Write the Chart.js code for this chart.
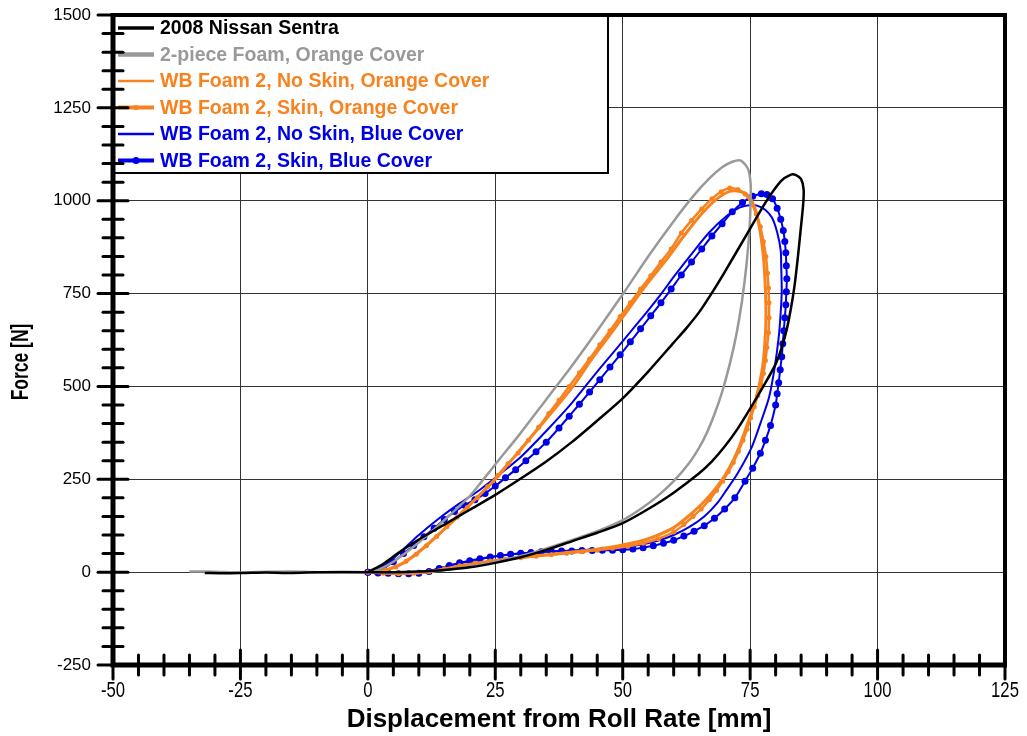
<!DOCTYPE html>
<html>
<head>
<meta charset="utf-8">
<script src="https://cdn.jsdelivr.net/npm/chart.js@4.4.1/dist/chart.umd.min.js"></script>
<style>
  html, body { margin: 0; padding: 0; background: #fff; }
  canvas { display: block; }
</style>
</head>
<body>
<canvas id="chart" width="1027" height="736"></canvas>
<script>
// Force / deplacement des essais (boucles charge-decharge)
const sentraX = [-32, -28, -24, -20, -16, -12, -8, -4, 0, 5, 10, 15, 20, 25, 30, 35, 40, 45, 50, 55, 60, 65, 67.5, 70, 72.5, 75, 77.5, 80, 81.2, 82.2, 83, 83.7, 84.3, 84.9, 85.4, 85.5, 85, 84, 83,
  81, 78, 74.8, 70, 67.5, 65, 62.5, 60, 55, 50, 45, 40, 35, 30, 25, 20, 15, 10, 6, 3, 0];
const sentraY = [-2, -3, -2, -1, -2, -1, 0, 0, 0, 0, 2, 6, 13, 25, 40, 60, 83, 106, 132, 170, 214, 266, 298, 338, 385, 440, 498, 560, 605, 655, 710, 770, 840, 920, 990, 1030, 1058, 1069, 1070,
  1052, 995, 920, 808, 752, 700, 657, 618, 540, 468, 408, 350, 298, 252, 208, 168, 128, 88, 52, 22, 0];

const foamX = [-35, -30, -25, -20, -15, -10, -5, 0, 5, 10, 14, 19, 24, 29, 33.7, 40, 45, 50, 53.5, 56.6, 60, 63, 65, 66.5, 68, 69.5, 71, 72.3, 73.4, 74.3, 74.9, 75.1, 75.1, 74.6, 73.2,
  71.5, 69.5, 67, 64, 60, 55, 50, 45, 40, 35, 30, 25, 22.5, 20, 15, 10, 5, 2, 0];
const foamY = [2, 1, -1, 1, 2, 0, 1, 0, 0, 1, 4, 13, 25, 40, 58, 86, 110, 140, 170, 202, 245, 293, 335, 375, 425, 485, 560, 640, 730, 830, 930, 1000, 1045, 1085, 1108,
  1105, 1090, 1060, 1015, 945, 850, 748, 650, 555, 465, 375, 290, 247, 205, 140, 80, 28, 6, 0];

const orangeNoSkinX = [0, 5, 10, 15, 20, 25, 30, 35, 40, 45, 50, 55, 60, 63, 66, 68.5, 70.5, 72.5, 74.5, 76.2, 77.3, 77.8, 78.1, 78, 77.6, 76.8, 75.8, 74.5, 73,
  71, 68.5, 65.5, 62, 58.5, 55, 51.5, 48, 44, 40.5, 37, 33, 29, 25, 21, 18, 14, 10, 7, 4, 0];
const orangeNoSkinY = [0, -3, -2, 8, 20, 30, 40, 47, 54, 62, 73, 90, 120, 152, 190, 230, 270, 325, 400, 470, 540, 600, 680, 760, 850, 930, 985, 1015, 1025,
  1025, 1005, 965, 905, 840, 780, 715, 648, 575, 505, 445, 380, 315, 250, 195, 155, 103, 55, 25, 8, 0];

const orangeSkinX = [0, 3, 6, 9, 12, 15, 18, 21, 24, 27, 30, 33, 36, 39, 42, 45, 48, 51, 54, 57, 60, 62,
  63.8, 65.4, 67, 68.4, 69.6, 70.7, 71.7, 72.7, 73.6, 74.4, 75.1, 75.8, 76.5, 77.1, 77.6, 78, 78.3, 78.6, 78.7, 78.7, 78.6, 78.4, 78.1, 77.6, 77, 76.2, 75.2, 74, 72.6,
  71, 69.3, 67.5, 65.5, 63.5, 61.5, 59.5, 57.5, 55.5, 53.5, 51.5, 49.5, 47.5, 45.5, 43.5, 41.5, 39.5, 37.5, 35.5, 33.5, 31.5, 29.5, 27.5, 25.5, 23.5, 21.5, 19.5, 17.5, 15.5, 13.5, 11.5, 9.5, 7.5, 5.5, 3.5, 1.5, 0];
const orangeSkinY = [0, -3, -4, -3, 1, 9, 17, 24, 30, 35, 39, 43, 47, 51, 55, 59, 64, 70, 78, 90, 108, 128,
  150, 170, 195, 220, 245, 270, 295, 325, 355, 385, 415, 445, 475, 505, 535, 570, 605, 645, 685, 725, 765, 805, 850, 890, 930, 965, 995, 1018, 1030,
  1034, 1024, 1005, 978, 947, 913, 870, 835, 798, 762, 725, 688, 650, 612, 574, 537, 500, 463, 427, 390, 355, 321, 292, 260, 230, 201, 174, 148, 122, 96, 71, 48, 29, 14, 5, 1, 0];

const blueNoSkinX = [0, 4, 8, 11, 14, 18, 22, 26, 30, 35, 40, 45, 50, 53.2, 57, 60, 63, 66, 68.5, 70.3, 72.5, 75.3, 77, 78.7, 79.8, 80.6, 81, 81.2, 81.1, 81, 80.3, 79.3, 78, 76.5, 75.1,
  73, 70.5, 67, 64, 60, 57.7, 55, 52, 49.9, 45, 40, 35, 30, 26, 22, 18, 14, 10, 7, 4, 2, 0];
const blueNoSkinY = [0, -3, -3, 0, 10, 24, 35, 44, 50, 55, 58, 62, 67, 73, 85, 100, 121, 150, 185, 220, 265, 336, 400, 470, 550, 632, 700, 758, 820, 866, 915, 954, 975, 986, 988,
  982, 960, 915, 865, 795, 752, 705, 655, 620, 540, 455, 380, 310, 265, 222, 185, 145, 100, 62, 25, 8, 0];

const blueSkinX = [0, 2, 4, 6, 8, 10, 12, 14, 16, 18, 20, 22, 24, 26, 28, 30, 32, 34, 36, 38, 40, 42, 44, 46, 48, 50, 52, 54, 56, 58, 60, 62, 64, 66, 68, 70, 72, 74, 75.5, 77, 78, 79,
  80, 80.3, 80.6, 80.9, 81.2, 81.4, 81.6, 81.8, 82, 82.1, 82.2, 82.1, 82, 81.8, 81.5, 81, 80.3, 79.4, 78.3, 77.2,
  75.5, 73.5, 71.5, 69.5, 67.5, 65.5, 63.5, 61.5, 59.5, 57.5, 55.5, 53.5, 51.5, 49.5, 47.5, 45.5, 43.5, 41.5, 39.5, 37.5, 35, 33, 31, 29, 27, 25, 23, 21, 19, 17, 15, 13, 11, 9, 7, 5, 3, 1.5, 0];
const blueSkinY = [0, -2, -3, -4, -4, -3, 2, 10, 18, 25, 31, 36, 41, 45, 48, 51, 53, 55, 56, 57, 57, 58, 58, 59, 59, 60, 62, 66, 71, 78, 86, 97, 110, 125, 145, 170, 200, 245, 280, 320, 355, 395,
  450, 480, 510, 545, 580, 615, 650, 685, 720, 755, 790, 825, 860, 890, 920, 950, 980, 1005, 1017, 1019,
  1012, 995, 970, 938, 905, 870, 835, 800, 762, 725, 690, 655, 620, 585, 552, 518, 485, 452, 420, 388, 350, 324, 300, 276, 254, 232, 212, 195, 180, 163, 142, 118, 95, 72, 50, 28, 10, 3, 0];

const seriesLabels = [
  '2008 Nissan Sentra',
  '2-piece Foam, Orange Cover',
  'WB Foam 2, No Skin, Orange Cover',
  'WB Foam 2, Skin, Orange Cover',
  'WB Foam 2, No Skin, Blue Cover',
  'WB Foam 2, Skin, Blue Cover'
];

const BLACK = '#000000';
const GREY = '#999999';
const ORANGE = '#f7821e';
const BLUE = '#0000e6';

const SANS = '"Liberation Sans", Arial, sans-serif';

function toPoints(xs, ys) {
  return xs.map((x, i) => ({ x: x, y: ys[i] }));
}

function makeSeries(label, xs, ys, color, width, legendWidth, radius) {
  return {
    label: label,
    data: toPoints(xs, ys),
    borderColor: color,
    backgroundColor: color,
    borderWidth: width,
    showLine: true,
    pointRadius: radius,
    pointBorderWidth: 0,
    pointHoverRadius: 0,
    legendWidth: legendWidth,
    legendDot: radius > 0
  };
}

// Legende encadree dans le coin haut gauche de la zone de trace
const boxLegend = {
  id: 'boxLegend',
  afterDatasetsDraw(chart) {
    const ctx = chart.ctx;
    const area = chart.chartArea;
    const x0 = area.left, y0 = area.top;
    ctx.save();
    ctx.fillStyle = '#fff';
    ctx.fillRect(x0, y0, 495, 158);
    ctx.strokeStyle = '#000';
    ctx.lineWidth = 2;
    ctx.strokeRect(x0 + 1, y0 + 1, 494, 157);
    ctx.font = 'bold 19.5px ' + SANS;
    ctx.textBaseline = 'middle';
    chart.data.datasets.forEach((ds, i) => {
      const y = y0 + 13 + i * 26.5;
      ctx.strokeStyle = ds.borderColor;
      ctx.lineWidth = ds.legendWidth;
      ctx.lineCap = 'butt';
      ctx.beginPath();
      ctx.moveTo(x0 + 5, y);
      ctx.lineTo(x0 + 41, y);
      ctx.stroke();
      if (ds.legendDot) {
        ctx.fillStyle = ds.borderColor;
        ctx.beginPath();
        ctx.arc(x0 + 23, y, ds.pointRadius, 0, Math.PI * 2);
        ctx.fill();
      }
      ctx.fillStyle = ds.borderColor;
      ctx.fillText(ds.label, x0 + 47, y + 1);
    });
    ctx.restore();
  }
};

// Cadre epais, graduations, libelles etroits de l'axe X et titre vertical
const axisFrame = {
  id: 'axisFrame',
  afterDraw(chart) {
    const ctx = chart.ctx;
    const a = chart.chartArea;
    const sx = chart.scales.x, sy = chart.scales.y;
    ctx.save();
    ctx.strokeStyle = '#000';
    ctx.lineCap = 'butt';
    ctx.lineWidth = 4;
    ctx.beginPath();
    ctx.moveTo(a.left, a.top);
    ctx.lineTo(a.right, a.top);
    ctx.lineTo(a.right, a.bottom);
    ctx.stroke();
    ctx.lineWidth = 5;
    ctx.beginPath();
    ctx.moveTo(a.left, a.top - 2);
    ctx.lineTo(a.left, a.bottom);
    ctx.lineTo(a.right + 2, a.bottom);
    ctx.stroke();

    ctx.lineCap = 'round';
    ctx.lineWidth = 3;
    for (let v = sx.min; v <= sx.max; v += 5) {
      const px = sx.getPixelForValue(v);
      const major = v % 25 === 0;
      ctx.beginPath();
      ctx.moveTo(px, a.bottom - (major ? 15 : 10));
      ctx.lineTo(px, a.bottom + (major ? 14 : 10));
      ctx.stroke();
    }
    for (let v = sy.min; v <= sy.max; v += 50) {
      const py = sy.getPixelForValue(v);
      const major = v % 250 === 0;
      ctx.beginPath();
      ctx.moveTo(a.left - (major ? 15 : 10), py);
      ctx.lineTo(a.left + (major ? 15 : 10), py);
      ctx.stroke();
    }

    // libelles de l'axe X, police condensee
    ctx.fillStyle = '#000';
    ctx.font = '22px ' + SANS;
    ctx.textAlign = 'center';
    ctx.textBaseline = 'middle';
    sx.ticks.forEach(t => {
      ctx.save();
      ctx.translate(sx.getPixelForValue(t.value), a.bottom + 26);
      ctx.scale(0.76, 1);
      ctx.fillText(String(t.value), 0, 0);
      ctx.restore();
    });

    ctx.font = 'bold 23px ' + SANS;
    ctx.translate(22, 362);
    ctx.rotate(-Math.PI / 2);
    ctx.scale(0.76, 1);
    ctx.fillText('Force [N]', 0, 0);
    ctx.restore();
  }
};

const datasets = [
  makeSeries(seriesLabels[0], sentraX, sentraY, BLACK, 2.5, 3.5, 0),
  makeSeries(seriesLabels[1], foamX, foamY, GREY, 2.5, 4.5, 0),
  makeSeries(seriesLabels[2], orangeNoSkinX, orangeNoSkinY, ORANGE, 3, 2.5, 0),
  makeSeries(seriesLabels[3], orangeSkinX, orangeSkinY, ORANGE, 2.5, 4, 2.5),
  makeSeries(seriesLabels[4], blueNoSkinX, blueNoSkinY, BLUE, 2, 2.5, 0),
  makeSeries(seriesLabels[5], blueSkinX, blueSkinY, BLUE, 2, 4, 3.5)
];

new Chart(document.getElementById('chart'), {
  type: 'scatter',
  data: { datasets: datasets },
  options: {
    responsive: false,
    animation: false,
    devicePixelRatio: 1,
    layout: { padding: { top: 15, right: 22, left: 0, bottom: 0 } },
    elements: { line: { tension: 0.25 } },
    plugins: {
      legend: { display: false },
      tooltip: { enabled: false }
    },
    scales: {
      x: {
        type: 'linear',
        min: -50,
        max: 125,
        afterFit(scale) {
          scale.height = 71;
          scale.paddingLeft = 0;
          scale.paddingRight = 0;
        },
        border: { display: false },
        grid: { color: '#333', lineWidth: 1, drawTicks: false },
        ticks: { stepSize: 25, display: false },
        title: {
          display: true,
          text: 'Displacement from Roll Rate [mm]',
          color: '#000',
          padding: { top: 0, bottom: 1 },
          font: { family: SANS, size: 26, weight: 'bold' }
        }
      },
      y: {
        type: 'linear',
        min: -250,
        max: 1500,
        afterFit(scale) {
          scale.width = 113;
          scale.paddingTop = 0;
          scale.paddingBottom = 0;
        },
        border: { display: false },
        grid: { color: '#333', lineWidth: 1, drawTicks: false },
        ticks: {
          stepSize: 250,
          padding: 22,
          color: '#000',
          font: { family: SANS, size: 17 },
          callback: v => String(v)
        }
      }
    }
  },
  plugins: [boxLegend, axisFrame]
});
</script>
</body>
</html>
